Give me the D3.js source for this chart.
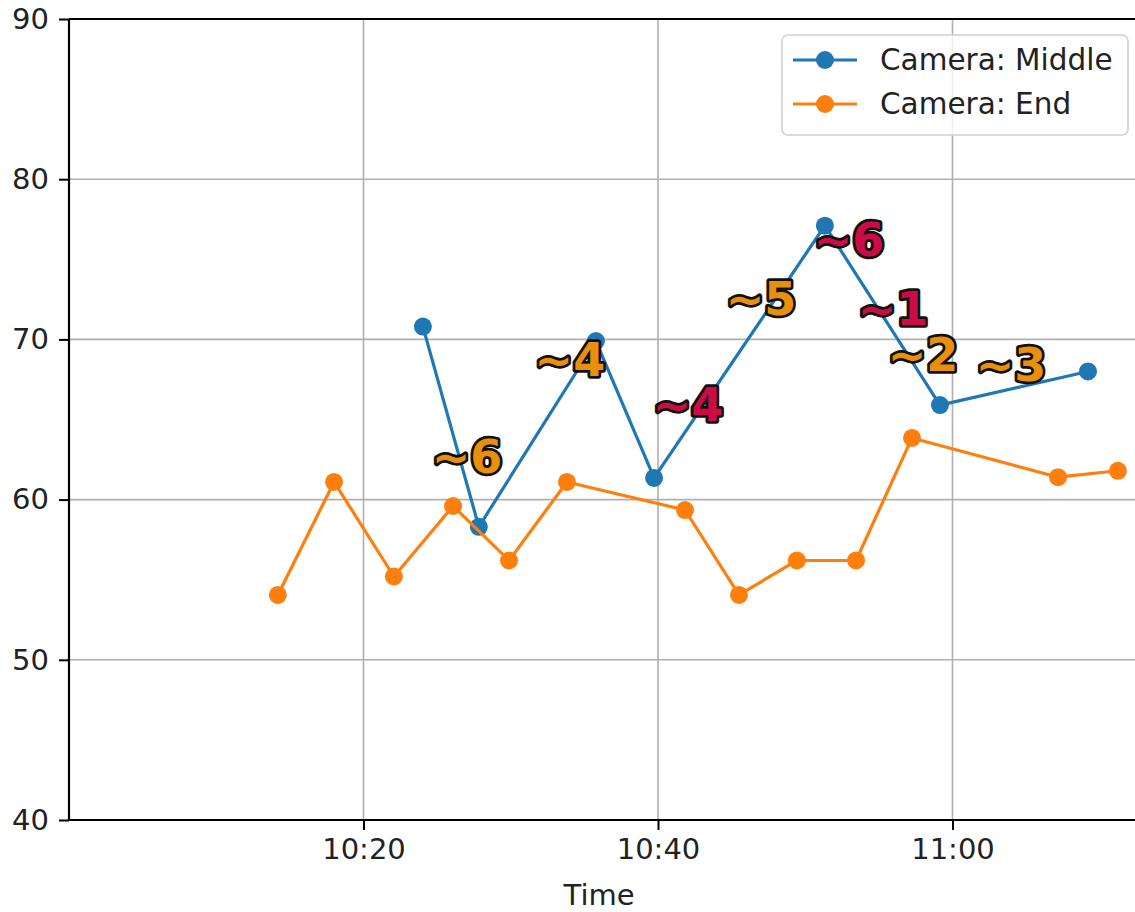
<!DOCTYPE html>
<html><head><meta charset="utf-8">
<script src="https://cdn.jsdelivr.net/npm/d3@7"></script>
<style>body{margin:0;background:#fff}svg{display:block}</style>
</head><body>
<svg id="c" width="1135" height="912"></svg>
<script>
const middleTimes = ["10:24:02","10:27:50","10:35:47","10:39:44","10:51:20","10:59:09","11:09:12"];
const middleValues = [70.8,58.3,69.9,61.35,77.1,65.9,68.0];
const endTimes = ["10:14:11","10:18:00","10:22:04","10:26:05","10:29:53","10:33:49","10:41:50","10:45:30","10:49:26","10:53:27","10:57:15","11:07:10","11:11:14"];
const endValues = [54.05,61.1,55.2,59.6,56.2,61.1,59.35,54.05,56.2,56.2,63.85,61.4,61.8];
const annLabels = ["~6","~4","~4","~5","~6","~1","~2","~3"];
const annTimes = ["10:27:02","10:34:01","10:42:02","10:47:00","10:52:58","10:55:58","10:58:00","11:03:58"];
const annValues = [61.66,67.7,64.9,71.5,75.2,70.9,68.03,67.4];
const annKinds = ["orange","orange","crimson","orange","crimson","crimson","orange","orange"];
const yTicks = [40,50,60,70,80,90];
const xTickTimes = ["10:20:00","10:40:00","11:00:00"];
const xTickLabels = ["10:20","10:40","11:00"];
const seriesNames = ["Camera: Middle","Camera: End"];

const parse = d3.timeParse("%H:%M:%S");
const svg = d3.select("#c");
const L = 69, T = 19, B = 820;
const x = d3.scaleTime().domain([parse("10:00:00"), parse("11:13:00")]).range([L, L + 73*14.725]);
const y = d3.scaleLinear().domain([40,90]).range([B, T]);
const font = "DejaVu Sans, sans-serif";
const blue = "#1f77b4", orange = "#ff7f0e";
const annColor = {orange:"#e8900c", crimson:"#cc0c45"};

// grid
const g = svg.append("g");
g.selectAll(".gx").data(xTickTimes).join("line")
  .attr("x1", d=>x(parse(d))).attr("x2", d=>x(parse(d))).attr("y1", T).attr("y2", B)
  .attr("stroke", "#b0b0b0").attr("stroke-width", 1.6);
g.selectAll(".gy").data(yTicks).join("line")
  .attr("x1", L).attr("x2", 1135).attr("y1", d=>y(d)).attr("y2", d=>y(d))
  .attr("stroke", "#b0b0b0").attr("stroke-width", 1.6);

// series
function drawSeries(times, vals, color) {
  const pts = times.map((t,i)=>[x(parse(t)), y(vals[i])]);
  svg.append("path").attr("d", d3.line()(pts)).attr("fill","none")
    .attr("stroke", color).attr("stroke-width", 3.2).attr("stroke-linejoin","round");
  svg.append("g").selectAll("circle").data(pts).join("circle")
    .attr("cx", d=>d[0]).attr("cy", d=>d[1]).attr("r", 9).attr("fill", color);
}
drawSeries(middleTimes, middleValues, blue);
drawSeries(endTimes, endValues, orange);

// annotations
svg.append("g").selectAll("text").data(annLabels).join("text")
  .attr("x", (d,i)=>x(parse(annTimes[i]))).attr("y", (d,i)=>y(annValues[i]))
  .attr("text-anchor","middle")
  .attr("font-family", "DejaVu Sans, sans-serif").attr("font-weight","bold").attr("font-size", 46)
  .attr("fill", (d,i)=>annColor[annKinds[i]])
  .attr("stroke", "#111").attr("stroke-width", 5.5).attr("stroke-linejoin","round")
  .attr("paint-order","stroke")
  .text(d=>d);

// axes
const xAxis = d3.axisBottom(x).tickValues(xTickTimes.map(parse))
  .tickFormat((d,i)=>xTickLabels[i]).tickSize(10).tickPadding(8);
const ax = svg.append("g").attr("transform", `translate(0,${B})`).call(xAxis);
const yAxis = d3.axisLeft(y).tickValues(yTicks).tickSize(10).tickPadding(10);
const ay = svg.append("g").attr("transform", `translate(${L},0)`).call(yAxis);
[ax, ay].forEach(a=>{
  a.select(".domain").remove();
  a.selectAll(".tick line").attr("stroke","#000").attr("stroke-width",2);
  a.selectAll(".tick text").attr("font-family", font).attr("font-size", 29).attr("fill","#222");
});
// spines
svg.append("line").attr("x1",L).attr("x2",L).attr("y1",T).attr("y2",B).attr("stroke","#000").attr("stroke-width",2.2);
svg.append("line").attr("x1",L).attr("x2",1135).attr("y1",B).attr("y2",B).attr("stroke","#000").attr("stroke-width",2.2);
svg.append("line").attr("x1",L).attr("x2",1135).attr("y1",T).attr("y2",T).attr("stroke","#000").attr("stroke-width",2.2);

svg.append("text").attr("x", x(parse("10:36:00"))).attr("y", 905).attr("text-anchor","middle")
  .attr("font-family", font).attr("font-size", 29).attr("fill","#222").text("Time");

// legend
const lg = svg.append("g");
lg.append("rect").attr("x",782).attr("y",35).attr("width",346).attr("height",100).attr("rx",6)
  .attr("fill","#fff").attr("fill-opacity",0.8).attr("stroke","#d0d0d0").attr("stroke-width",1.6);
[blue, orange].forEach((c,i)=>{
  const yy = 60 + i*44;
  lg.append("line").attr("x1",793).attr("x2",857).attr("y1",yy).attr("y2",yy).attr("stroke",c).attr("stroke-width",3.2);
  lg.append("circle").attr("cx",825).attr("cy",yy).attr("r",9).attr("fill",c);
  lg.append("text").attr("x",880).attr("y",yy+10).attr("font-family",font).attr("font-size",29.5)
    .attr("fill","#222").text(seriesNames[i]);
});
</script>
</body></html>
